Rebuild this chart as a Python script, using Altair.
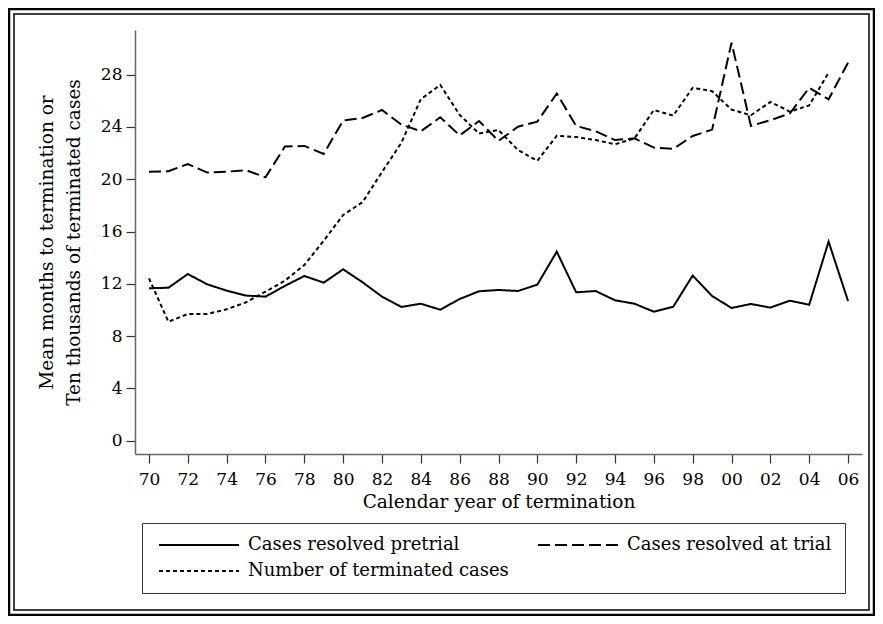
import altair as alt
import pandas as pd

years = list(range(1970, 2007))
pretrial = [11.66, 11.70, 12.75, 11.96, 11.48, 11.10, 11.02, 11.84, 12.60, 12.09,
            13.11, 12.12, 11.02, 10.23, 10.48, 10.02, 10.84, 11.43, 11.53, 11.45,
            11.94, 14.46, 11.35, 11.45, 10.74, 10.48, 9.87, 10.25, 12.63, 11.07,
            10.15, 10.46, 10.18, 10.71, 10.40, 15.23, 10.69]
trial = [20.58, 20.61, 21.17, 20.51, 20.58, 20.69, 20.15, 22.50, 22.55, 21.94,
         24.50, 24.69, 25.30, 24.18, 23.67, 24.74, 23.36, 24.46, 22.93, 24.02,
         24.41, 26.56, 24.08, 23.68, 23.00, 23.13, 22.42, 22.32, 23.31, 23.80,
         30.45, 24.08, 24.52, 25.03, 27.00, 26.12, 28.92]
terminated_years = list(range(1970, 2006))
terminated = [12.42, 9.10, 9.69, 9.69, 10.05, 10.59, 11.40, 12.24, 13.44, 15.30,
              17.27, 18.25, 20.55, 22.80, 26.13, 27.22, 24.92, 23.50, 23.77, 22.24,
              21.41, 23.33, 23.23, 23.00, 22.68, 23.12, 25.30, 24.87, 27.00, 26.74,
              25.33, 24.90, 25.92, 25.18, 25.65, 28.16]

series_names = ["Cases resolved pretrial", "Cases resolved at trial",
                "Number of terminated cases"]
x_tick_values = list(range(1970, 2007, 2))
y_tick_values = [0, 4, 8, 12, 16, 20, 24, 28]

df = pd.concat([
    pd.DataFrame({"year": years, "value": pretrial, "series": series_names[0]}),
    pd.DataFrame({"year": years, "value": trial, "series": series_names[1]}),
    pd.DataFrame({"year": terminated_years, "value": terminated, "series": series_names[2]}),
], ignore_index=True)

FONT = "DejaVu Serif"

lines = alt.Chart(df).mark_line(color="black", strokeWidth=2).encode(
    x=alt.X("year:Q",
            scale=alt.Scale(domain=[1969.28, 2006.72], nice=False, zero=False),
            axis=alt.Axis(values=x_tick_values,
                          labelExpr="substring(toString(datum.value), 2, 4)",
                          title="Calendar year of termination",
                          grid=False, labelPadding=8, titlePadding=5)),
    y=alt.Y("value:Q",
            scale=alt.Scale(domain=[-1.02, 31.42], nice=False, zero=False),
            axis=alt.Axis(values=y_tick_values,
                          title=["Mean months to termination or",
                                 "Ten thousands of terminated cases"],
                          grid=False, labelPadding=4, titlePadding=17,
                          titleLineHeight=27)),
    strokeDash=alt.StrokeDash(
        "series:N",
        scale=alt.Scale(domain=series_names, range=[[1, 0], [12, 5], [4, 3]]),
        title=None,
        legend=alt.Legend(orient="none", legendX=7, legendY=493, columns=2,
                          direction="horizontal",
                          symbolType="M-1,0H15", symbolSize=100,
                          symbolStrokeWidth=2, symbolStrokeColor="black",
                          labelFont=FONT, labelFontSize=18, labelColor="black",
                          labelOffset=75, labelLimit=400,
                          strokeColor="#333", padding=13,
                          columnPadding=25, rowPadding=8)),
)

frame_src = alt.Data(values=[{"k": 0}])
outer = alt.Chart(frame_src).mark_rect(filled=False, stroke="black", strokeWidth=2.5).encode(
    x=alt.value(-126), x2=alt.value(739), y=alt.value(-21), y2=alt.value(585))
inner = alt.Chart(frame_src).mark_rect(filled=False, stroke="black", strokeWidth=1.5).encode(
    x=alt.value(-121), x2=alt.value(734), y=alt.value(-16), y2=alt.value(580))

chart = alt.layer(outer, inner, lines).properties(
    width=727, height=424,
    autosize=alt.AutoSizeParams(type="none"),
    padding={"left": 127, "top": 22, "right": 13, "bottom": 162},
).configure_view(strokeWidth=0).configure_axis(
    labelFont=FONT, labelFontSize=17, labelColor="black",
    titleFont=FONT, titleFontSize=18.5, titleFontWeight="normal", titleColor="black",
    domainColor="#666", domainWidth=1.5, tickColor="#333", tickSize=9, tickWidth=1.2,
)

chart.save("out.html", embed_options={"renderer": "svg", "actions": False})
